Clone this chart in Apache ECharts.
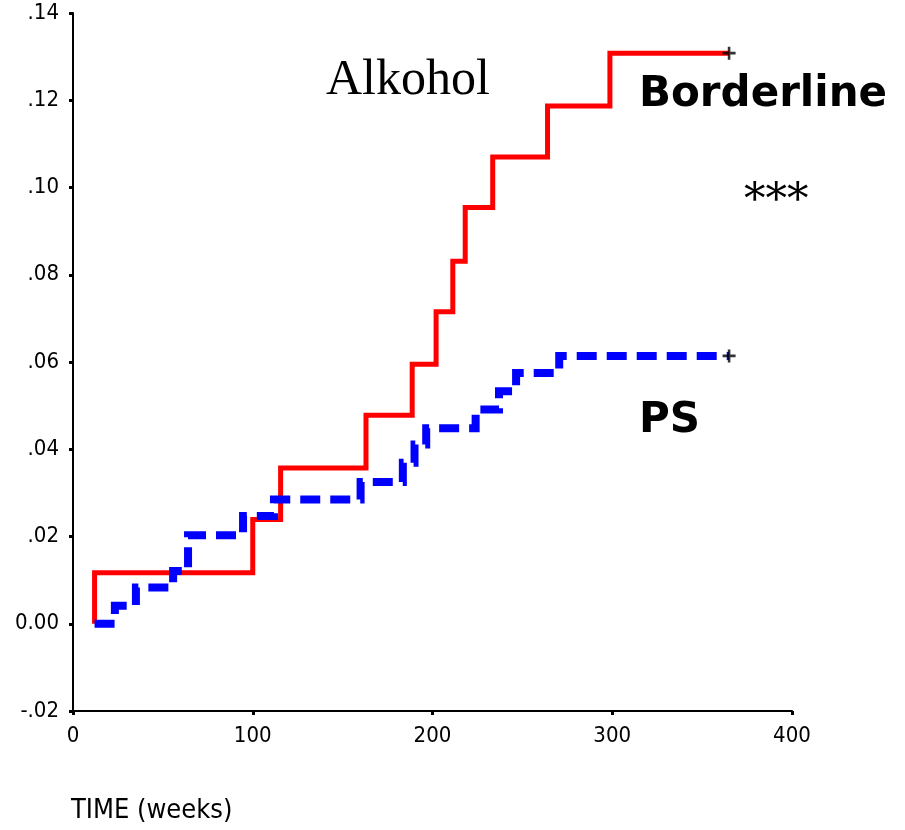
<!DOCTYPE html>
<html><head><meta charset="utf-8">
<script src="https://cdn.jsdelivr.net/npm/echarts@6/dist/echarts.min.js"></script>
<style>html,body{margin:0;padding:0;background:#fff}#c{width:905px;height:830px}</style>
</head><body><div id="c"></div>
<script>
// Borderline (red) KM-type step curve: [time, cumulative value]
const borderlineTimes = [12, 12, 100, 115.5, 163, 188.7, 202, 211.3, 218.2, 233.5, 264, 298.7, 365];
const borderlineValues = [0, 0.0117, 0.0239, 0.0357, 0.0478, 0.0595, 0.0715, 0.0831, 0.0954, 0.107, 0.1187, 0.1308, 0.1308];
// PS (blue dashed)
const psTimes = [12, 23.3, 35, 55.7, 64, 94.6, 111.8, 160, 183.5, 190, 196.5, 224, 237, 246.5, 270.5, 365];
const psValues = [0, 0.0041, 0.0083, 0.0121, 0.0203, 0.0247, 0.0285, 0.0325, 0.0369, 0.0411, 0.0448, 0.0491, 0.0533, 0.0575, 0.0614, 0.0614];
const xTicks = [0, 100, 200, 300, 400];
const yTicks = [-0.02, 0, 0.02, 0.04, 0.06, 0.08, 0.10, 0.12, 0.14];
const censorPoints = [[365, 0.1308], [365, 0.0614]];

const zip = (a, b) => a.map((t, i) => [t, b[i]]);
const narrow = "'Liberation Sans Narrow', 'DejaVu Sans Condensed', 'Liberation Sans', sans-serif";
const plusPath = 'path://M4,0 L6,0 L6,4 L10,4 L10,6 L6,6 L6,10 L4,10 L4,6 L0,6 L0,4 L4,4 Z';

const chart = echarts.init(document.getElementById('c'), null, {renderer: 'canvas'});
chart.setOption({
  animation: false,
  backgroundColor: '#fff',
  grid: {left: 73, right: 113, top: 13, bottom: 119},
  xAxis: {
    type: 'value', min: xTicks[0], max: xTicks[xTicks.length - 1], interval: 100,
    splitLine: {show: false},
    axisLine: {show: true, onZero: false, lineStyle: {color: '#000', width: 2}},
    axisTick: {show: true, length: 4, lineStyle: {color: '#000', width: 3}},
    axisLabel: {color: '#000', fontSize: 22, fontFamily: narrow, margin: 14}
  },
  yAxis: {
    type: 'value', min: yTicks[0], max: yTicks[yTicks.length - 1], interval: 0.02,
    splitLine: {show: false},
    axisLine: {show: true, onZero: false, lineStyle: {color: '#000', width: 2}},
    axisTick: {show: true, length: 4, lineStyle: {color: '#000', width: 3}},
    axisLabel: {
      color: '#000', fontSize: 22, fontFamily: narrow, margin: 14,
      formatter: v => {
        const n = Math.round(v * 100);
        if (n === 0) return '0.00';
        const s = String(Math.abs(n)).padStart(2, '0');
        return (n < 0 ? '-' : '') + '.' + s;
      }
    }
  },
  series: [
    {
      name: 'Borderline', type: 'line', step: 'end', showSymbol: false,
      data: zip(borderlineTimes, borderlineValues),
      lineStyle: {color: '#ff0000', width: 5, cap: 'butt', join: 'miter'}
    },
    {
      name: 'PS', type: 'line', step: 'end', showSymbol: false,
      data: zip(psTimes, psValues),
      lineStyle: {color: '#0000ff', width: 8, type: [20, 10], cap: 'butt', join: 'miter'}
    },
    {
      name: 'censored', type: 'scatter', symbol: plusPath, symbolSize: 13,
      itemStyle: {color: '#000'}, data: censorPoints, z: 5
    }
  ],
  graphic: [
    {type: 'text', left: 326, top: 56, style: {text: 'Alkohol', font: "50px 'Liberation Serif', 'Times New Roman', serif", fill: '#000'}},
    {type: 'text', left: 639, top: 74, style: {text: 'Borderline', font: "bold 42px 'DejaVu Sans', sans-serif", fill: '#000'}},
    {type: 'text', left: 744, top: 180, style: {text: '***', font: "43px 'DejaVu Serif', serif", fill: '#000'}},
    {type: 'text', left: 639, top: 400, style: {text: 'PS', font: "bold 42px 'DejaVu Sans', sans-serif", fill: '#000'}},
    {type: 'text', left: 71, top: 797, style: {text: 'TIME (weeks)', font: "27px " + narrow, fill: '#000'}}
  ]
});
</script></body></html>
